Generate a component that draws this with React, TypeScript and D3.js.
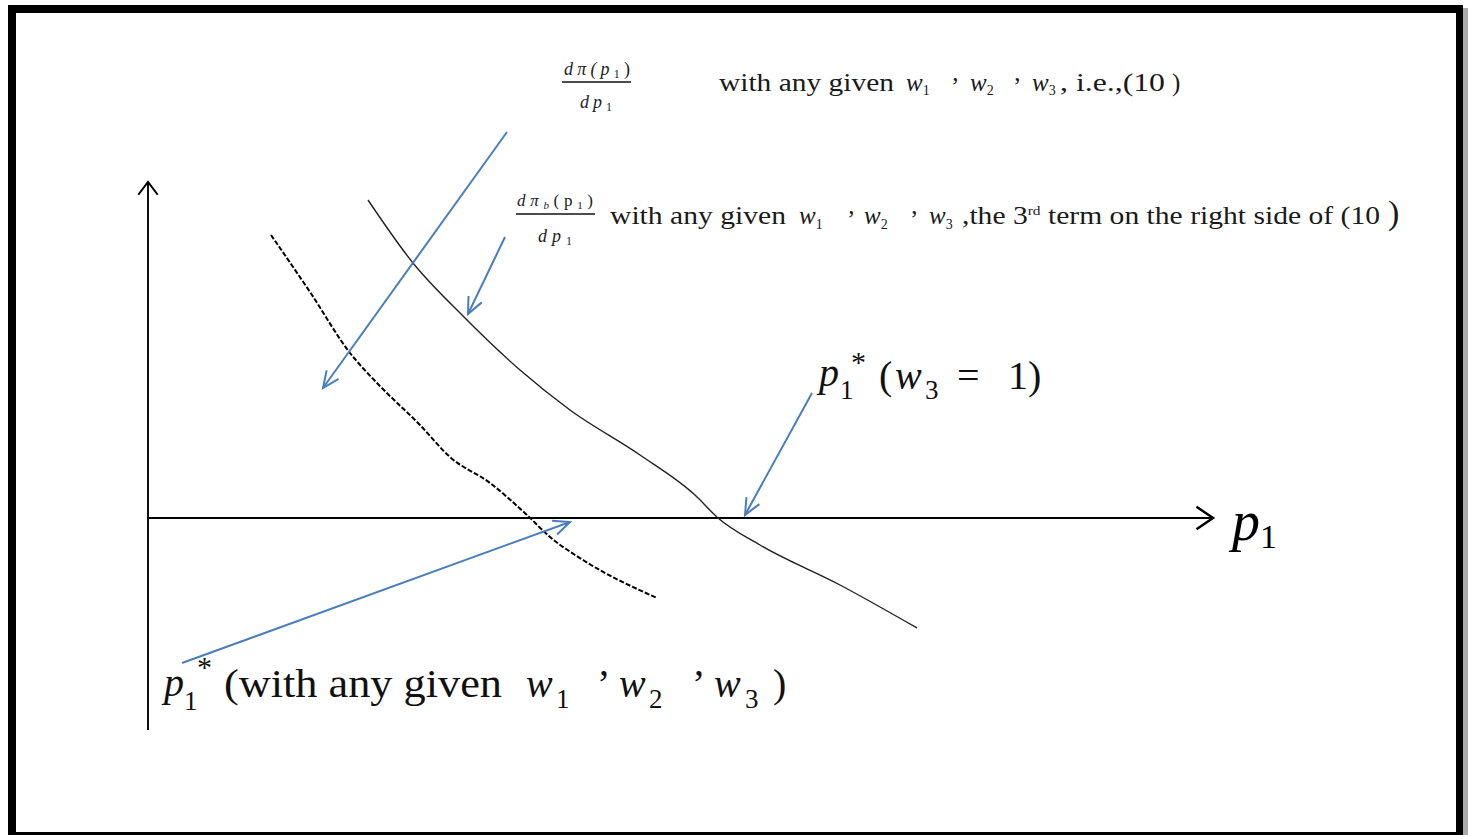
import React from "react";
import * as d3 from "d3";

// Curve data in abstract units (origin at axes intersection)
const solidX = [22.0, 26.5, 31.5, 37.2, 42.2, 49.2, 54.7, 57.0, 61.2, 69.2, 76.9];
const solidY = [31.8, 25.5, 20.2, 14.8, 10.8, 6.3, 2.3, 0.0, -2.7, -6.7, -11.0];
const dashX = [12.3, 16.2, 20.2, 22.9, 27.2, 30.2, 34.2, 37.9, 40.2, 43.5, 50.9];
const dashY = [28.3, 22.6, 16.5, 13.5, 9.3, 6.1, 3.5, 0.3, -1.9, -4.2, -8.0];
// Pointer arrows: start and end points
const arrowFromX = [35.9, 35.7, 66.4, 3.4];
const arrowFromY = [38.6, 28.1, 12.5, -14.5];
const arrowToX = [17.5, 32.0, 59.7, 42.2];
const arrowToY = [13.0, 20.4, 0.3, -0.4];
// Axis extents
const axisX = [0, 106.5];
const axisY = [-21.2, 33.6];

const W = 1471;
const H = 835;
const BLUE = "#4a7ebb";
const SERIF = "'Liberation Serif', 'DejaVu Serif', serif";

function vHead(x1: number, y1: number, x0: number, y0: number, len: number, ang: number) {
  const a = Math.atan2(y1 - y0, x1 - x0);
  const p1 = [x1 - len * Math.cos(a - ang), y1 - len * Math.sin(a - ang)];
  const p2 = [x1 - len * Math.cos(a + ang), y1 - len * Math.sin(a + ang)];
  return `M${p1[0]},${p1[1]}L${x1},${y1}L${p2[0]},${p2[1]}`;
}

export default function App() {
  const x = d3.scaleLinear().domain([0, 106.5]).range([148, 1213]);
  const y = d3.scaleLinear().domain([0, 33.6]).range([518, 182]);

  const line = d3
    .line<[number, number]>()
    .x((d) => x(d[0]))
    .y((d) => y(d[1]))
    .curve(d3.curveMonotoneX);

  const solid = solidX.map((v, i) => [v, solidY[i]] as [number, number]);
  const dashed = dashX.map((v, i) => [v, dashY[i]] as [number, number]);

  const ox = x(0), oy = y(0);
  const xEnd = x(axisX[1]);
  const yTop = y(axisY[1]);
  const yBot = y(axisY[0]);

  return (
    <svg width={W} height={H} style={{ position: "absolute", left: 0, top: 0, background: "#fff" }}>
      {/* frame */}
      <rect x={8} y={5} width={1455} height={8} fill="#000" />
      <rect x={8} y={5} width={8} height={830} fill="#000" />
      <rect x={1456} y={5} width={7} height={830} fill="#000" />
      <rect x={1463} y={8} width={5} height={827} fill="#aaa" />
      <rect x={8} y={832} width={1455} height={3} fill="#000" />

      {/* axes */}
      <line x1={ox - 1} y1={oy} x2={xEnd} y2={oy} stroke="#000" strokeWidth={2.2} />
      <path d={vHead(xEnd, oy, ox, oy, 20, 0.6)} fill="none" stroke="#000" strokeWidth={2.5} />
      <line x1={ox} y1={yBot} x2={ox} y2={yTop} stroke="#111" strokeWidth={2} />
      <path d={vHead(ox, yTop, ox, oy, 16, 0.65)} fill="none" stroke="#000" strokeWidth={2} />

      {/* curves */}
      <path d={line(solid) || ""} fill="none" stroke="#222" strokeWidth={1.4} />
      <path d={line(dashed) || ""} fill="none" stroke="#000" strokeWidth={2} strokeDasharray="5,2" />

      {/* pointer arrows */}
      {arrowFromX.map((_, i) => {
        const x0 = x(arrowFromX[i]), y0 = y(arrowFromY[i]);
        const x1 = x(arrowToX[i]), y1 = y(arrowToY[i]);
        return (
          <g key={i}>
            <line x1={x0} y1={y0} x2={x1} y2={y1} stroke={BLUE} strokeWidth={2} />
            <path d={vHead(x1, y1, x0, y0, 18, 0.42)} fill="none" stroke={BLUE} strokeWidth={2} />
          </g>
        );
      })}

      {/* fractions */}
      <g fontFamily={SERIF} fill="#222" fontStyle="italic">
        <text x={564} y={75} fontSize={18} textLength={66} lengthAdjust="spacing">dπ(p<tspan fontSize={12} dy={3} fontStyle="normal">1</tspan><tspan dy={-3} fontStyle="normal">)</tspan></text>
        <line x1={562} y1={82} x2={631} y2={82} stroke="#111" strokeWidth={1.6} />
        <text x={580} y={108} fontSize={18} textLength={32} lengthAdjust="spacing">dp<tspan fontSize={12} dy={3} fontStyle="normal">1</tspan></text>

        <text x={517} y={206} fontSize={17} textLength={76} lengthAdjust="spacing">dπ<tspan fontSize={11} dy={3}>b</tspan><tspan dy={-3} fontStyle="normal">(p</tspan><tspan fontSize={11} dy={3} fontStyle="normal">1</tspan><tspan dy={-3} fontStyle="normal">)</tspan></text>
        <line x1={516} y1={214} x2={595} y2={214} stroke="#111" strokeWidth={1.6} />
        <text x={538} y={242} fontSize={18} textLength={34} lengthAdjust="spacing">dp<tspan fontSize={12} dy={3} fontStyle="normal">1</tspan></text>
      </g>

      <g fontFamily={SERIF} fill="#1a1a1a" fontSize={25}>
        <text x={719} y={91} textLength={175} lengthAdjust="spacingAndGlyphs">with any given</text>
        <text x={906} y={91} fontStyle="italic">w<tspan fontSize={14} dy={4} fontStyle="normal">1</tspan></text>
        <text x={951} y={95}>’</text>
        <text x={970} y={91} fontStyle="italic">w<tspan fontSize={14} dy={4} fontStyle="normal">2</tspan></text>
        <text x={1013} y={95}>’</text>
        <text x={1032} y={91} fontStyle="italic">w<tspan fontSize={14} dy={4} fontStyle="normal">3</tspan></text>
        <text x={1060} y={91} textLength={105} lengthAdjust="spacingAndGlyphs">, i.e.,(10</text>
        <text x={1172} y={91}>)</text>

        <text x={610} y={224} textLength={176} lengthAdjust="spacingAndGlyphs">with any given</text>
        <text x={799} y={224} fontStyle="italic">w<tspan fontSize={14} dy={5} fontStyle="normal">1</tspan></text>
        <text x={847} y={228}>’</text>
        <text x={864} y={224} fontStyle="italic">w<tspan fontSize={14} dy={5} fontStyle="normal">2</tspan></text>
        <text x={910} y={228}>’</text>
        <text x={929} y={224} fontStyle="italic">w<tspan fontSize={14} dy={5} fontStyle="normal">3</tspan></text>
        <text x={962} y={224} textLength={418} lengthAdjust="spacingAndGlyphs">,the 3<tspan fontSize={13} dy={-9}>rd</tspan><tspan dy={9}> term on the right side of (10</tspan></text>
        <text x={1388} y={224} fontSize={34} fontWeight={300}>)</text>
      </g>

      {/* p1*(w3 = 1) */}
      <g fontFamily={SERIF} fill="#111" fontSize={40}>
        <text x={819} y={386} fontStyle="italic">p</text>
        <text x={840} y={399} fontSize={27}>1</text>
        <text x={851} y={372} fontSize={30}>*</text>
        <text x={879} y={389}>(</text>
        <text x={895} y={389} fontStyle="italic">w</text>
        <text x={925} y={399} fontSize={27}>3</text>
        <text x={957} y={389}>=</text>
        <text x={1008} y={389}>1)</text>
      </g>

      {/* p1*(with any given ...) */}
      <g fontFamily={SERIF} fill="#111" fontSize={40}>
        <text x={164} y={696} fontStyle="italic">p</text>
        <text x={184} y={710} fontSize={27}>1</text>
        <text x={197} y={677} fontSize={30}>*</text>
        <text x={224} y={697} textLength={278} lengthAdjust="spacingAndGlyphs">(with any given</text>
        <text x={526} y={697} fontStyle="italic">w</text>
        <text x={556} y={708} fontSize={27}>1</text>
        <text x={597} y={697}>’</text>
        <text x={619} y={697} fontStyle="italic">w</text>
        <text x={649} y={708} fontSize={27}>2</text>
        <text x={692} y={697}>’</text>
        <text x={714} y={697} fontStyle="italic">w</text>
        <text x={745} y={708} fontSize={27}>3</text>
        <text x={773} y={697}>)</text>
      </g>

      {/* axis label p1 */}
      <g fontFamily={SERIF} fill="#000">
        <text x={1232} y={540} fontSize={56} fontStyle="italic">p</text>
        <text x={1260} y={548} fontSize={34}>1</text>
      </g>
    </svg>
  );
}
